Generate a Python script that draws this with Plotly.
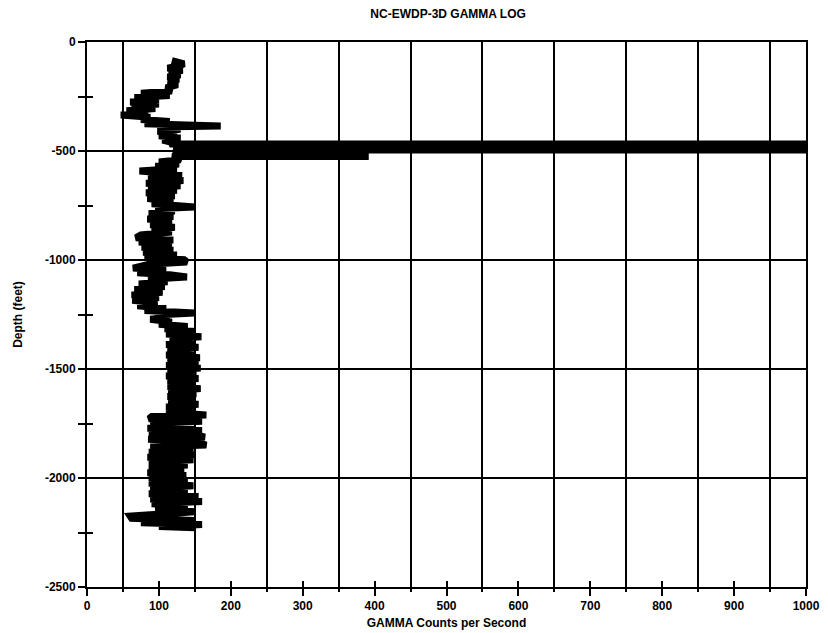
import plotly.graph_objects as go

# Gamma log trace (depth in feet, gamma in counts per second)
depth = [
    -85, -90, -100, -110, -120, -130, -140, -150, -160, -170, -180, -195, -210,
    -225, -235, -245, -255, -265, -275, -285, -295, -305, -315, -325, -335, -345,
    -355, -365, -375, -385, -390, -400, -410, -420, -430, -440, -450, -460,
    -468, -468, -495, -495, -505, -515, -515, -525, -525, -532,
    -540, -550, -560, -570, -580, -592, -602, -612, -622, -635, -648, -660, -670,
    -680, -692, -705, -718, -730, -742, -757, -765, -775, -787, -800, -812, -825,
    -838, -850, -862, -872, -885, -898, -908, -918, -930, -942, -955, -965, -977,
    -988, -998, -1009, -1020, -1037, -1048, -1058, -1068, -1078, -1088, -1100,
    -1110, -1122, -1135, -1148, -1160, -1172, -1185, -1197, -1210, -1222, -1232,
    -1243, -1252, -1262, -1272, -1285, -1295, -1305, -1315, -1328, -1340, -1352,
    -1362, -1375, -1388, -1400, -1412, -1425, -1436, -1448, -1460, -1472, -1484,
    -1496, -1508, -1520, -1532, -1544, -1556, -1568, -1580, -1590, -1602, -1614,
    -1626, -1638, -1650, -1662, -1674, -1686, -1698, -1711, -1718, -1728, -1740,
    -1750, -1762, -1772, -1782, -1792, -1802, -1812, -1822, -1834, -1849, -1858,
    -1870, -1882, -1894, -1905, -1916, -1928, -1940, -1952, -1964, -1976, -1988,
    -2000, -2012, -2024, -2036, -2048, -2060, -2072, -2085, -2096, -2108, -2118,
    -2130, -2142, -2155, -2165, -2175, -2185, -2195, -2205, -2213, -2222, -2228,
]
gamma = [
    118, 130, 135, 128, 112, 133, 114, 130, 112, 128, 113, 126, 110,
    118, 75, 115, 66, 100, 60, 100, 62, 95, 55, 85, 47, 88,
    75, 115, 80, 186, 100, 130, 98, 125, 100, 130, 105, 118,
    115, 1050, 1050, 120, 130, 120, 387, 387, 118, 128,
    130, 100, 128, 95, 125, 73, 110, 132, 85, 134, 82, 130, 85,
    125, 82, 122, 84, 120, 90, 150, 95, 122, 86, 120, 84, 118,
    88, 122, 90, 118, 75, 68, 120, 72, 118, 76, 120, 78, 125,
    80, 135, 139, 85, 64, 110, 70, 115, 139, 85, 112,
    72, 108, 66, 105, 62, 100, 63, 98, 70, 110, 80,
    150, 95, 115, 88, 118, 100, 140, 108, 150, 110, 159,
    115, 150, 110, 155, 112, 150, 110, 157, 112, 155, 110,
    158, 112, 152, 110, 155, 112, 150, 112, 158, 113, 152,
    112, 150, 113, 155, 110, 150, 110, 166, 90, 86, 160,
    88, 150, 84, 160, 86, 152, 164, 85, 150, 166, 88,
    148, 86, 150, 84, 148, 86, 140, 86, 135, 84, 138,
    86, 140, 86, 148, 88, 140, 86, 155, 88, 160, 90,
    140, 95, 150, 95, 60, 62, 150, 75, 160, 100, 150,
]

x_ticks = [0, 100, 200, 300, 400, 500, 600, 700, 800, 900, 1000]
x_grid = [50, 150, 250, 350, 450, 550, 650, 750, 850, 950]
y_ticks = [0, -500, -1000, -1500, -2000, -2500]
y_minor = [-250, -750, -1250, -1750, -2250]
y_all = [0, -250, -500, -750, -1000, -1250, -1500, -1750, -2000, -2250, -2500]

FONT = "Liberation Sans, Arial, sans-serif"

fig = go.Figure()
fig.add_trace(go.Scatter(
    x=gamma, y=depth, mode="lines",
    line=dict(color="black", width=7),
    showlegend=False, hoverinfo="skip",
))
# invisible trace to activate overlay axes for crossing tick marks
fig.add_trace(go.Scatter(x=[None], y=[None], xaxis="x2", yaxis="y2",
                         showlegend=False, hoverinfo="skip"))

fig.update_layout(
    width=812, height=625,
    margin=dict(l=79, r=14, t=34, b=46),
    paper_bgcolor="white", plot_bgcolor="white",
    font=dict(family=FONT, color="black", size=12),
    title=dict(
        text="NC-EWDP-3D GAMMA LOG",
        x=0.542, xanchor="center", y=0.99, yanchor="middle",
        font=dict(family=FONT, size=12, weight="bold"),
    ),
    xaxis=dict(
        range=[0, 1000], tickvals=x_ticks, ticktext=[str(v) for v in x_ticks],
        ticks="outside", ticklen=7, tickwidth=2, tickcolor="black",
        showgrid=False, zeroline=False, automargin=False,
        ticklabeloverflow="allow",
        showline=True, linecolor="black", linewidth=2, mirror=True,
        tickfont=dict(family=FONT, size=12, weight="bold"),
        title=dict(text="GAMMA Counts per Second", standoff=6,
                   font=dict(family=FONT, size=12, weight="bold")),
        minor=dict(tickvals=x_grid, showgrid=True, gridcolor="black",
                   gridwidth=2, ticks="outside", ticklen=3, tickwidth=2,
                   tickcolor="black"),
    ),
    xaxis2=dict(
        range=[0, 1000], overlaying="x", anchor="y", side="bottom",
        tickvals=x_ticks, showticklabels=False, automargin=False,
        ticks="inside", ticklen=6, tickwidth=2, tickcolor="black",
        showgrid=False, zeroline=False, showline=False,
    ),
    yaxis=dict(
        range=[-2500, 0], tickvals=y_ticks, ticktext=[str(v) for v in y_ticks],
        ticks="outside", ticklen=7, tickwidth=2, tickcolor="black",
        showgrid=True, gridcolor="black", gridwidth=2, zeroline=False,
        automargin=False,
        showline=True, linecolor="black", linewidth=2, mirror=True,
        tickfont=dict(family=FONT, size=12, weight="bold"),
        title=dict(text="Depth (feet)", standoff=20,
                   font=dict(family=FONT, size=12, weight="bold")),
        minor=dict(tickvals=y_minor, ticks="outside", ticklen=7,
                   tickwidth=2, tickcolor="black", showgrid=False),
    ),
    yaxis2=dict(
        range=[-2500, 0], overlaying="y", anchor="x", side="left",
        tickvals=y_all, showticklabels=False, automargin=False,
        ticks="inside", ticklen=6, tickwidth=2, tickcolor="black",
        showgrid=False, zeroline=False, showline=False,
    ),
)

fig.write_html("out.html")
